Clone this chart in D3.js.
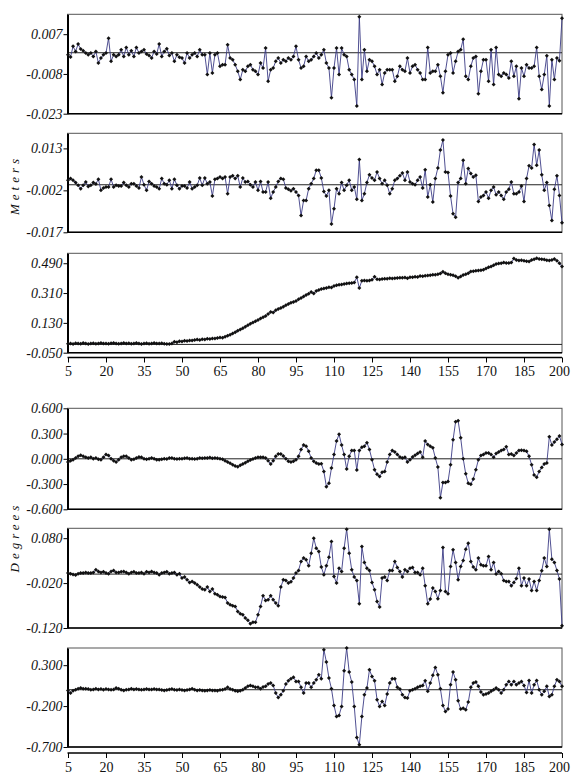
<!DOCTYPE html>
<html>
<head>
<meta charset="utf-8">
<script src="https://cdn.jsdelivr.net/npm/d3@7"></script>
<style>
  body { margin: 0; background: #fff; }
  svg text { font-family: "Liberation Serif", "Times New Roman", Times, serif !important; fill: #111; }
  svg text.it { font-style: italic; }
</style>
</head>
<body>
<svg id="chart" width="571" height="774" font-family="Liberation Serif, serif"></svg>
<script>
// sample index on the x axis
const steps = d3.range(5, 201)
const xTicks = [5, 20, 35, 50, 65, 80, 95, 110, 125, 140, 155, 170, 185, 200]

// --- Meters ---
const metersA = [
  -0.00075,-0.0016,0.0024,0.0005,0.00325,0.0014,0.00075,-0.0001,-0.00075,-0.0001,
  -0.0014,0.0005,-0.0039,-0.002,-0.00075,-0.0001,0.0055,-0.00325,-0.00075,-0.0014,
  -0.00075,0.0011,-0.0014,0.002,-0.00075,0.00075,-0.0014,0.002,-0.0001,0.0005,
  0.0011,-0.0005,-0.001,-0.002,0.0005,-0.0005,0.00325,-0.0014,0.0005,0.0015,
  -0.001,-0.0001,-0.00325,-0.00075,-0.00175,-0.002,-0.0039,-0.0001,-0.002,-0.00075,
  -0.0001,-0.0014,0.0011,-0.00075,-0.00075,-0.00825,-0.0001,-0.0076,-0.00075,-0.0001,
  -0.0051,-0.0045,-0.0045,0.003,-0.002,-0.0026,-0.0045,-0.007,-0.0101,-0.0064,
  -0.007,-0.0051,-0.0045,-0.0064,-0.007,-0.00825,-0.0039,-0.00575,0.00175,-0.01075,
  -0.0064,-0.00575,-0.00325,-0.002,-0.0039,-0.0026,-0.00325,-0.002,-0.0026,-0.0014,
  0.0024,-0.0026,-0.00575,-0.0051,-0.0014,-0.00325,
  -0.0026,-0.0014,-0.0001,-0.002,-0.00075,0.0011,-0.0039,-0.00575,-0.017,-0.00575,
  0.00175,-0.00825,0.00175,-0.00075,-0.0014,-0.0064,-0.00825,-0.0101,-0.0201,0.0136,
  -0.0101,0.0011,-0.007,-0.0026,-0.00325,-0.0051,-0.00825,-0.0064,-0.012,-0.0076,
  -0.0064,-0.0064,-0.0064,-0.01075,-0.0089,-0.0051,-0.0064,-0.007,-0.002,-0.0076,
  -0.0051,-0.0045,-0.0064,-0.0076,-0.0101,-0.0101,0.002,-0.0076,-0.007,-0.007,
  -0.0045,-0.0089,-0.0151,-0.007,-0.00075,-0.0001,-0.0076,-0.00325,0.0005,0.0011,
  0.0051,-0.0089,-0.0101,-0.0051,-0.002,-0.0014,-0.0155,-0.007,-0.0026,-0.0026,
  -0.01075,0.0011,-0.012,0.002,-0.00825,-0.0089,-0.0076,-0.00825,-0.0095,-0.00325,
  -0.0089,-0.0051,-0.0174,-0.00575,-0.0089,-0.0045,-0.00575,-0.00575,-0.0051,0.002,
  -0.0089,-0.0139,-0.00825,-0.0011,-0.0201,-0.0026,-0.0101,-0.002,-0.003,0.013
]
const metersB = [
  0.0016,0.0022,0.0016,0.0008,-0.0002,-0.0014,-0.0002,0.001,-0.0006,-0.0002,
  0.0008,0.0003,0.002,-0.002,-0.0012,-0.0008,-0.0008,0.002,-0.0008,-0.0002,
  -0.0004,-0.0004,0.0008,-0.0002,-0.0008,0.0004,0.0004,-0.0004,-0.0012,0.0028,
  0.0,-0.002,0.0012,0.0004,-0.0004,-0.0008,-0.0014,0.0022,0.0004,0.0,
  0.0016,-0.0014,0.002,-0.0002,-0.0014,-0.0004,-0.0004,-0.0012,0.001,-0.0014,
  -0.0008,-0.0002,0.0024,-0.0002,0.0024,0.0004,0.001,-0.004,0.002,0.0022,
  0.0028,0.0022,0.0028,-0.0032,0.0028,0.0032,0.0022,0.0032,-0.0008,0.0024,
  0.001,0.0012,0.0,-0.0008,0.001,-0.002,0.0012,-0.0026,-0.0026,0.001,
  -0.0048,-0.0026,-0.0008,0.0012,0.0022,0.002,-0.0012,-0.0016,-0.0021,-0.0014,
  -0.0026,-0.0038,-0.011,-0.0056,-0.0056,-0.0014,
  0.0004,0.0022,0.0052,0.0052,0.0024,-0.0024,-0.004,-0.002,-0.014,-0.0086,
  -0.0014,-0.0032,0.0008,-0.002,-0.0002,0.0016,-0.002,-0.0008,-0.0052,0.009,
  -0.0056,-0.0032,0.0008,0.0036,0.0024,0.0016,0.0046,0.0022,0.0004,0.0016,
  -0.0002,-0.0032,-0.0014,0.0016,0.0022,0.0032,0.0042,0.0016,0.0046,0.001,
  0.0004,0.0,0.0016,0.0028,-0.0012,0.0054,-0.0044,0.0,-0.0062,0.0022,
  0.006,0.0124,0.016,0.0046,0.0044,-0.004,-0.0104,-0.0116,0.0008,0.0022,
  0.0088,0.0004,0.0058,0.004,0.0028,0.0034,-0.006,-0.0044,-0.0038,-0.0026,
  -0.0048,-0.002,-0.0008,-0.0036,-0.0026,-0.0038,-0.0052,-0.0026,-0.0016,0.001,
  -0.0032,-0.0032,-0.0026,-0.0004,-0.006,0.0022,0.0068,0.006,0.0144,0.007,
  0.0124,0.0036,-0.002,0.0008,-0.0074,-0.0128,-0.0016,0.0032,-0.0038,-0.0136
]
const metersC = [
  0.004,0.006,0.003,0.007,0.005,0.004,0.008,0.006,0.003,0.005,
  0.007,0.004,0.006,0.009,0.005,0.006,0.004,0.007,0.008,0.005,
  0.004,0.006,0.009,0.005,0.007,0.004,0.006,0.008,0.005,0.003,
  0.006,0.007,0.004,0.005,0.008,0.006,0.005,0.007,0.004,0.003,
  0.002,0.006,0.016,0.013,0.019,0.017,0.022,0.020,0.024,0.023,
  0.027,0.029,0.026,0.031,0.030,0.034,0.033,0.036,0.035,0.039,
  0.042,0.040,0.046,0.052,0.058,0.066,0.074,0.082,0.090,0.098,
  0.107,0.116,0.124,0.132,0.140,0.148,0.156,0.164,0.172,0.183,
  0.196,0.192,0.206,0.214,0.220,0.228,0.236,0.244,0.252,0.256,
  0.262,0.272,0.280,0.289,0.298,0.306,0.316,0.308,0.322,0.328,
  0.334,0.338,0.341,0.345,0.343,0.352,0.357,0.360,0.361,0.365,
  0.367,0.369,0.370,0.373,0.405,0.340,0.385,0.386,0.384,0.386,
  0.390,0.409,0.394,0.392,0.395,0.396,0.397,0.399,0.398,0.400,
  0.401,0.403,0.402,0.404,0.400,0.405,0.406,0.408,0.407,0.413,
  0.411,0.414,0.416,0.417,0.421,0.420,0.424,0.428,0.438,0.430,
  0.424,0.421,0.417,0.412,0.403,0.410,0.419,0.424,0.430,0.440,
  0.441,0.444,0.446,0.448,0.450,0.458,0.466,0.470,0.478,0.486,
  0.488,0.490,0.494,0.492,0.491,0.494,0.518,0.510,0.506,0.508,
  0.505,0.502,0.500,0.510,0.514,0.520,0.516,0.514,0.512,0.508,
  0.506,0.510,0.516,0.505,0.490,0.470
]

// --- Degrees ---
const degreesA = [
  -0.038,-0.022,-0.010,0.010,0.030,0.042,0.030,0.018,0.010,0.018,
  0.002,0.010,-0.006,-0.010,0.018,0.050,0.038,0.002,-0.022,-0.038,
  -0.010,0.018,0.030,0.030,0.010,-0.010,-0.006,0.010,0.022,0.018,
  0.002,-0.006,0.002,0.010,0.002,-0.010,-0.010,-0.006,0.002,-0.002,
  0.010,0.010,0.002,-0.002,0.002,0.002,0.006,0.010,0.002,0.002,
  -0.002,0.002,0.010,0.006,0.010,0.010,0.014,0.006,0.010,0.006,
  0.002,-0.006,-0.022,-0.038,-0.054,-0.070,-0.086,-0.094,-0.078,-0.062,
  -0.046,-0.030,-0.014,-0.002,0.010,0.018,0.018,0.018,0.010,-0.022,
  -0.062,-0.022,0.030,0.058,0.058,0.034,0.002,-0.030,-0.038,-0.030,
  -0.010,0.030,0.110,0.163,0.150,0.090,
  0.010,-0.030,-0.050,-0.062,-0.058,-0.150,-0.331,-0.291,-0.110,0.050,
  0.211,0.291,0.163,0.050,-0.122,0.030,0.098,0.098,-0.134,0.098,
  0.138,0.150,0.191,0.110,-0.010,-0.130,-0.183,-0.211,-0.159,-0.150,
  -0.038,0.050,0.098,0.082,0.050,0.022,0.010,0.018,-0.038,-0.010,
  0.022,0.042,0.062,0.082,0.018,0.211,0.171,0.150,0.130,0.010,
  -0.098,-0.463,-0.283,-0.283,-0.271,-0.070,0.227,0.439,0.451,0.251,
  0.002,-0.179,-0.291,-0.303,-0.239,-0.130,-0.010,0.038,0.050,0.070,
  0.070,0.050,0.018,0.062,0.082,0.098,0.110,0.142,0.050,0.058,
  0.038,0.070,0.098,0.102,0.098,0.090,0.030,-0.070,-0.191,-0.219,
  -0.150,-0.102,-0.062,-0.050,0.263,0.163,0.199,0.231,0.271,0.171
]
const degreesB = [
  0.0022,0.0007,-0.0007,-0.0022,0.0007,0.0022,0.0022,0.0037,0.0022,0.0022,
  0.0037,0.0096,0.0059,0.0037,0.0052,0.0022,0.0007,0.0059,0.0082,0.0037,
  0.0037,0.0052,0.0059,0.0037,0.0007,0.0037,0.0052,0.0022,0.0022,0.0037,
  0.0007,0.0052,0.0037,0.0059,0.0037,0.0022,-0.0015,0.0022,0.0037,0.0052,
  0.0007,0.0022,0.0037,-0.0015,0.0007,-0.0089,-0.0067,-0.0126,-0.0185,-0.0163,
  -0.02,-0.0237,-0.0289,-0.0333,-0.0348,-0.0289,-0.0385,-0.0333,-0.0437,-0.0459,
  -0.0496,-0.0511,-0.0519,-0.0645,-0.0682,-0.0704,-0.0719,-0.083,-0.0882,-0.0904,
  -0.0978,-0.103,-0.1104,-0.1074,-0.1074,-0.0904,-0.0719,-0.0482,-0.0585,-0.0571,
  -0.0482,-0.0571,-0.0645,-0.0704,-0.0289,-0.0126,-0.0141,-0.02,-0.017,-0.0089,
  0.0022,0.0082,0.0282,0.0356,0.0319,0.0185,
  0.0467,0.08,0.0578,0.0504,0.0156,-0.0015,0.0185,0.0378,0.0726,-0.0052,
  -0.02,0.0133,0.0059,0.0578,0.1,0.0467,0.0096,-0.0067,-0.0141,-0.0659,
  0.0615,0.0259,0.0133,0.0082,-0.0185,-0.0348,-0.0608,-0.0734,-0.0089,-0.0067,
  -0.0141,0.0082,0.0082,0.0282,0.0148,0.0059,-0.0067,0.0096,0.0059,0.0133,
  0.0148,0.0037,0.0037,-0.0015,0.0133,-0.0259,-0.0659,-0.0556,-0.0311,-0.0385,
  -0.0548,-0.0363,0.0593,-0.0385,-0.0437,0.017,0.0541,0.0259,-0.0126,0.017,
  0.0304,0.0556,0.0689,0.0282,0.0156,0.0096,0.0356,0.0207,0.0185,0.0185,
  0.0393,0.0096,0.0259,0.0,0.0059,0.0007,-0.0141,-0.0163,-0.0163,-0.0259,
  -0.0185,-0.0096,0.0133,-0.0259,-0.0089,-0.0259,-0.0111,-0.0363,-0.0163,-0.0363,
  -0.0141,0.0074,0.0356,0.017,0.1,0.0333,0.0259,0.0082,-0.0111,-0.1149
]
const degreesC = [
  -0.008,-0.041,-0.012,0.000,0.012,0.020,0.012,0.012,0.008,0.000,
  0.004,0.012,0.004,0.008,0.000,0.008,0.004,0.000,0.004,0.020,
  0.012,0.000,-0.008,0.000,0.004,0.012,0.004,0.008,0.004,0.000,
  0.004,0.008,0.004,0.004,0.008,0.004,0.004,-0.004,-0.008,-0.004,
  0.004,0.008,0.000,-0.004,0.004,-0.004,-0.008,-0.004,0.004,0.012,
  0.000,-0.008,-0.004,-0.008,-0.012,-0.008,-0.004,-0.008,-0.008,-0.012,
  -0.004,0.000,0.008,0.029,0.008,0.000,-0.012,-0.020,-0.012,0.000,
  0.020,0.041,0.053,0.041,0.029,0.029,0.012,0.033,0.041,0.069,
  0.082,0.053,-0.041,-0.094,-0.061,-0.012,0.069,0.110,0.135,0.151,
  0.102,0.102,0.029,-0.041,0.082,0.082,
  0.029,0.082,0.122,0.184,0.135,0.490,0.339,0.143,0.012,-0.192,
  -0.327,-0.314,-0.204,0.233,0.510,0.216,0.094,-0.204,-0.584,-0.673,
  -0.327,-0.061,0.020,0.245,0.163,0.110,-0.122,-0.204,-0.143,-0.192,
  -0.053,0.082,0.135,0.135,0.029,0.008,-0.061,-0.094,-0.102,-0.012,
  0.000,0.012,0.029,0.041,0.053,0.110,-0.020,0.082,0.176,0.273,
  0.184,0.012,-0.192,-0.265,-0.237,0.061,0.216,0.122,-0.135,-0.237,
  -0.225,-0.245,-0.151,0.029,0.082,0.094,0.041,-0.029,-0.061,-0.053,
  -0.041,-0.020,0.000,0.020,0.000,-0.041,0.000,0.061,0.102,0.061,
  0.102,0.061,0.082,0.102,0.053,-0.033,0.114,-0.041,0.061,0.114,
  0.000,-0.061,-0.020,0.041,-0.082,-0.061,0.041,0.122,0.102,0.041
]

// y tick labels per panel
const ticksA = [0.007, -0.008, -0.023]
const ticksB = [0.013, -0.002, -0.017]
const ticksC = [0.49, 0.31, 0.13, -0.05]
const ticksD = [0.6, 0.3, 0, -0.3, -0.6]
const ticksE = [0.08, -0.02, -0.12]
const ticksF = [0.3, -0.2, -0.7]

const serif = "Liberation Serif, serif"
const svg = d3.select("#chart")
const left = 67.5, right = 562

const x = d3.scaleLinear().domain([5, 200]).range([68, 562])

const panels = [
  { values: metersA,  ticks: ticksA, domain: [-0.023, 0.0145], top: 14.3,  bottom: 113.7 },
  { values: metersB,  ticks: ticksB, domain: [-0.017, 0.0184], top: 133.3, bottom: 232.3 },
  { values: metersC,  ticks: ticksC, domain: [-0.05, 0.55],    top: 253.3, bottom: 352.7 },
  { values: degreesA, ticks: ticksD, domain: [-0.6, 0.6],      top: 408.3, bottom: 509.3 },
  { values: degreesB, ticks: ticksE, domain: [-0.12, 0.102],   top: 528.3, bottom: 628 },
  { values: degreesC, ticks: ticksF, domain: [-0.7, 0.51],     top: 648,   bottom: 747 }
]

const diamond = d3.symbol(d3.symbolSquare, 8)()

panels.forEach(p => {
  const y = d3.scaleLinear().domain(p.domain).range([p.bottom, p.top])
  const g = svg.append("g")

  // frame
  g.append("rect")
    .attr("x", left).attr("y", p.top)
    .attr("width", right - left).attr("height", p.bottom - p.top)
    .attr("fill", "none").attr("stroke", "#555").attr("stroke-width", 1)
  g.append("line")
    .attr("x1", left).attr("x2", right).attr("y1", p.bottom).attr("y2", p.bottom)
    .attr("stroke", "#000").attr("stroke-width", 1.5)

  // zero line
  g.append("line")
    .attr("x1", left).attr("x2", right).attr("y1", y(0)).attr("y2", y(0))
    .attr("stroke", "#222").attr("stroke-width", 1)

  // left axis
  const yAxis = g.append("g")
    .attr("transform", `translate(${left},0)`)
    .call(d3.axisLeft(y).tickValues(p.ticks).tickSize(4).tickSizeOuter(0).tickPadding(1)
      .tickFormat(d => d.toFixed(3)))
    .attr("font-family", serif)
    .attr("font-size", 14)
    .attr("font-style", "italic")
  yAxis.select(".domain").attr("stroke", "#000").attr("stroke-width", 2)
  yAxis.selectAll(".tick line").attr("stroke", "#000")
  yAxis.selectAll("text").attr("class", "it").attr("fill", "#111")

  // series line + markers
  g.append("path")
    .datum(p.values)
    .attr("fill", "none")
    .attr("stroke", "#3c3c86")
    .attr("stroke-width", 0.9)
    .attr("d", d3.line().x((d, i) => x(steps[i])).y(d => y(d)))

  g.selectAll(".pt")
    .data(p.values)
    .enter()
    .append("path")
    .attr("class", "pt")
    .attr("d", diamond)
    .attr("transform", (d, i) => `translate(${x(steps[i])},${y(d)}) rotate(45)`)
    .attr("fill", "#111")
})

// x axes under each group
;[357.5, 753].forEach(pos => {
  const xAxis = svg.append("g")
    .attr("transform", `translate(0,${pos})`)
    .call(d3.axisBottom(x).tickValues(xTicks).tickSize(5).tickSizeOuter(0).tickPadding(4)
      .tickFormat(d3.format("d")))
    .attr("font-family", serif)
    .attr("font-size", 14)
  xAxis.select(".domain").attr("stroke", "#000").attr("stroke-width", 1.5)
    .attr("d", `M${left},0H${right}`)
  xAxis.selectAll(".tick line").attr("stroke", "#000")
  xAxis.selectAll("text")
    .attr("fill", "#111")
    .attr("dx", d => d === 200 ? -3 : 0)
})

// axis titles
const titles = [["Meters", 185], ["Degrees", 537]]
titles.forEach(([t, cy]) => {
  svg.append("text")
    .attr("class", "it")
    .attr("transform", `translate(19,${cy}) rotate(-90)`)
    .attr("text-anchor", "middle")
    .attr("font-size", 13)
    .attr("letter-spacing", 4)
    .text(t)
})
</script>
</body>
</html>
